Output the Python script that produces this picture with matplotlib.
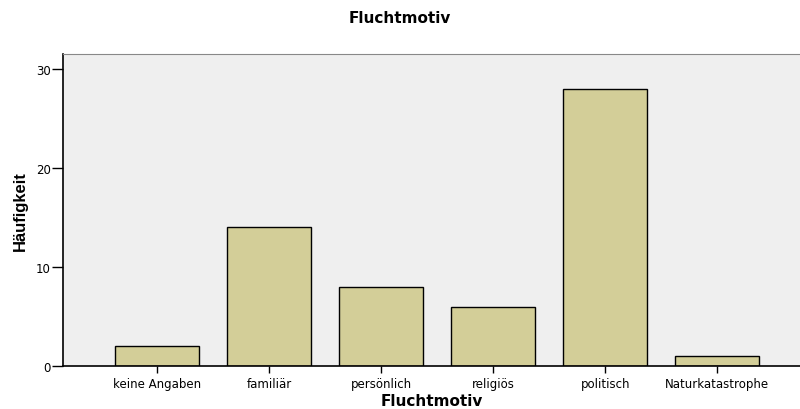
import numpy as np
import matplotlib.pyplot as plt

categories = ["keine Angaben", "familiär", "persönlich", "religiös", "politisch", "Naturkatastrophe"]
counts = [2, 14, 8, 6, 28, 1]
yticks = [0, 10, 20, 30]

plt.rcParams['font.family'] = ['DejaVu Sans']

fig = plt.figure(figsize=(8, 4.1), dpi=100)
ax = fig.add_axes([0.079, 0.105, 0.921, 0.761])
ax.set_facecolor('#efefef')

x = np.arange(len(categories))
ax.bar(x, counts, width=0.75, color='#d3ce98', edgecolor='black', linewidth=1.0, zorder=2)

ax.set_xlim(-0.84, 5.74)
ax.set_ylim(0, 31.5)
ax.set_xticks(x)
ax.set_xticklabels(categories, fontsize=8.5)
ax.set_yticks(yticks)
ax.set_yticklabels([str(t) for t in yticks], fontsize=8.5)
ax.tick_params(axis='y', length=8, width=1, pad=1)
ax.tick_params(axis='x', length=5, width=1, pad=3)

ax.spines['right'].set_visible(False)
ax.spines['top'].set_color('#888888')
ax.spines['left'].set_color('black')
ax.spines['bottom'].set_color('black')
ax.spines['left'].set_linewidth(1.2)
ax.spines['bottom'].set_linewidth(1.2)

ax.set_xlabel("Fluchtmotiv", fontsize=11, fontweight='bold', labelpad=2)
ax.set_ylabel("Häufigkeit", fontsize=12, fontweight='bold', labelpad=6,
              family=['Liberation Sans Narrow', 'Liberation Sans', 'DejaVu Sans'])
fig.text(0.5, 0.955, "Fluchtmotiv", ha='center', va='center', fontsize=11, fontweight='bold')

plt.savefig("out.png", dpi=100)
